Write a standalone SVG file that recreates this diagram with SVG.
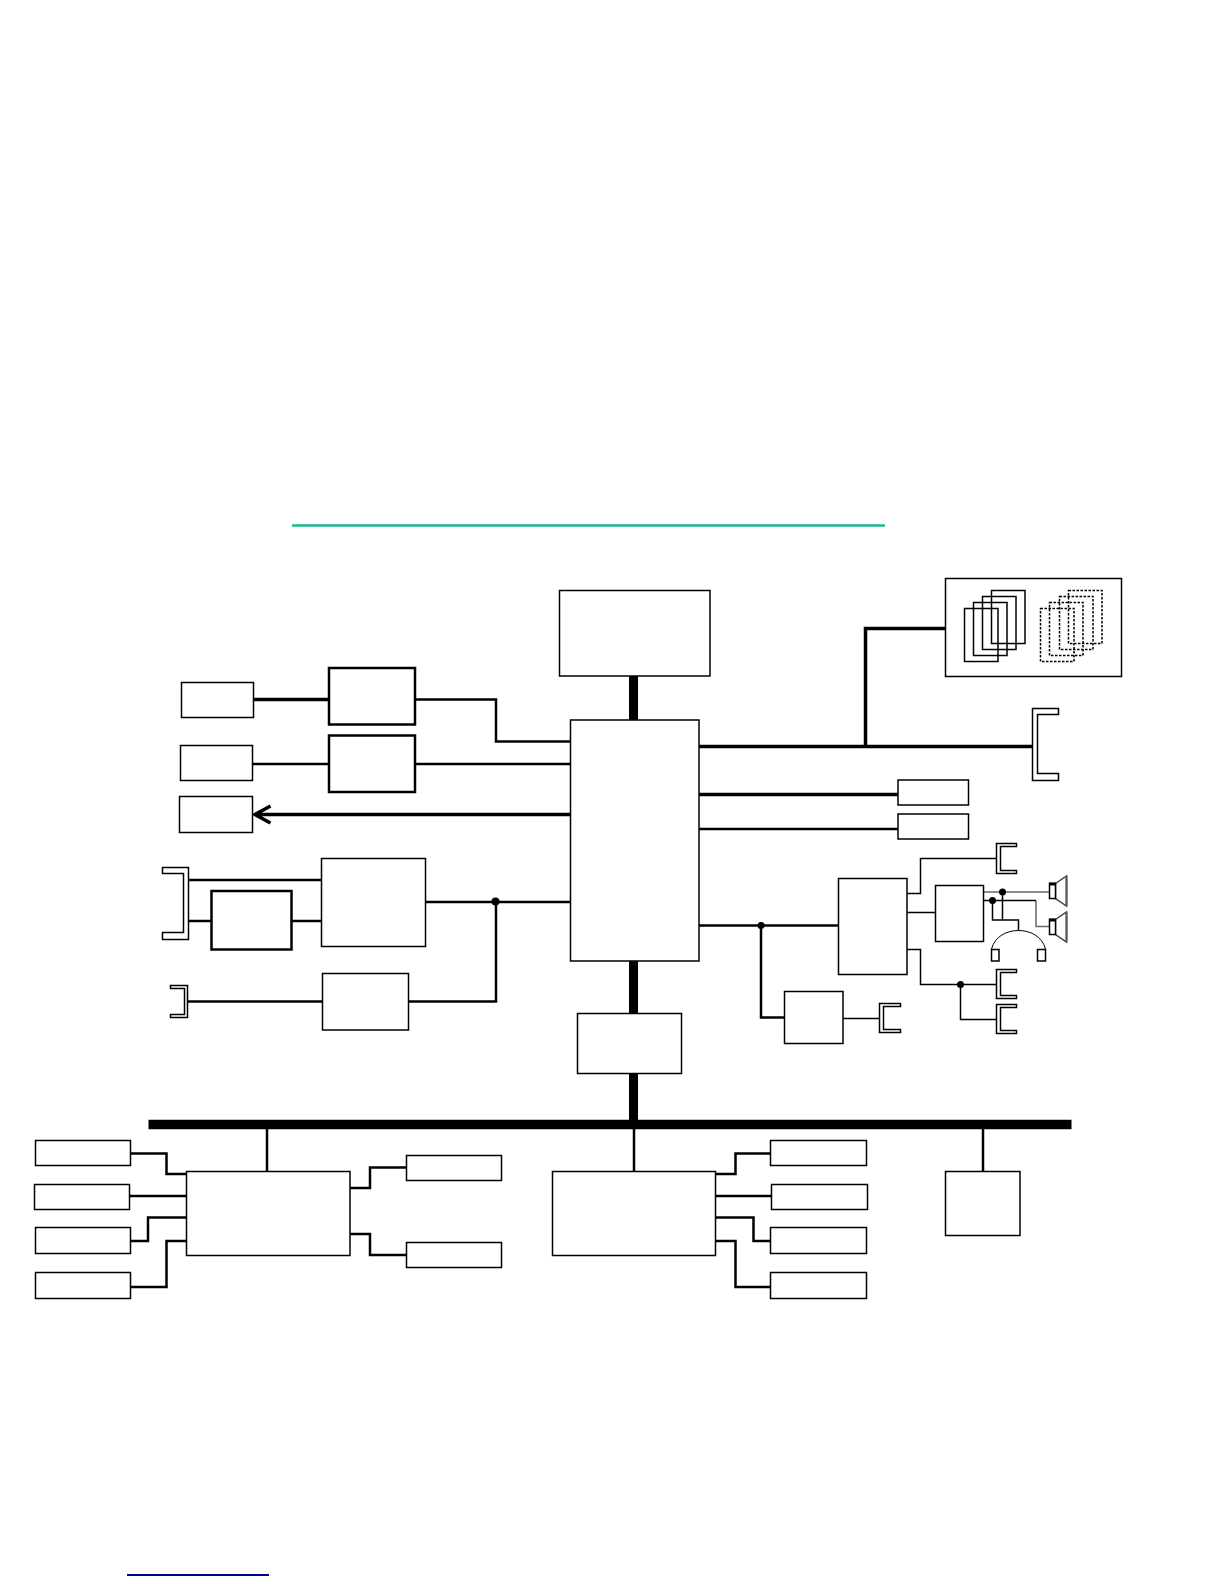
<svg xmlns="http://www.w3.org/2000/svg" width="1224" height="1584" viewBox="0 0 1224 1584">
<defs><style>
rect,path,polygon{fill:#fff;stroke:#000;stroke-width:1.5}
.b2{stroke-width:2.5}
.dash{fill:none;stroke-width:1.5;stroke-dasharray:2.5 1.5}
.open{fill:none}
.horn{stroke:#444;stroke-width:1.5}
.horn-edge{fill:none;stroke:#555;stroke-width:2}
.cap{fill:none;stroke-width:3}
#connectors path{fill:none;stroke:#000;stroke-width:2.5}
#connectors .w1{stroke-width:1.5}
#connectors .w3{stroke-width:3.5}
#connectors .w9{stroke-width:9}
#connectors .bus{stroke-width:9.5}
#connectors .grey{stroke:#666;stroke-width:1.5}
#connectors circle{fill:#000;stroke:none}
</style></defs>
<rect width="1224" height="1584" style="fill:#fff;stroke:none"/>
<path id="rule-green" d="M292 525.500H885" style="stroke:#17b890;stroke-width:2.500;fill:none"/>
<path id="rule-blue" d="M127 1575H269" style="stroke:#00008b;stroke-width:2;fill:none"/>
<g id="connectors">
<path class="w9" d="M633.500 675V721M633.500 961V1014M633.500 1073V1121"/>
<path class="bus" d="M148.500 1124.500H1071.500"/>
<path class="w3" d="M698 746.500H1033M865.500 746.500V628.500H946"/>
<path class="w3" d="M698 794.500H899"/>
<path d="M698 829H899"/>
<path d="M698 925.500H839M761 925.500V1017.500H785"/>
<path class="w1" d="M842 1018.500H880"/>
<circle cx="761" cy="925.500" r="3.500"/>
<path class="w1" d="M906 912.500H936M906 893.500H920.500V858.500H997M906 949.500H920.500V984.500H997M960.500 984.500V1019.500H997"/>
<circle cx="960.500" cy="984.500" r="3.500"/>
<path class="grey" d="M983 892H1050M1036 900.500V926.500H1050"/>
<path class="w1" d="M983 900.500H1036M1002.500 892V920M992.500 900.500V920H1018.500V930.500"/>
<circle cx="1002.500" cy="892" r="3.500"/><circle cx="992.500" cy="900.500" r="3.500"/>
<path class="w3" d="M254 699.500H329"/>
<path d="M415 699.500H496V741.500H571"/>
<path d="M252 764H329M415 764H571"/>
<path class="w3" d="M571 814.500H256M270.500 806L255 814.500L270.500 823"/>
<path d="M188 880H322M188 921H212M291 921H322M425 902H571M496 902V1001.500H408M188 1001.500H323"/>
<circle cx="495.500" cy="901.500" r="4"/>
<path d="M267 1129V1172M634 1129V1172M983 1129V1172"/>
<path d="M130 1153.500H166.500V1174H187M129 1196H187M130 1241H148V1217.500H187M130 1287H166.500V1241H187M349 1188H370V1167.500H407M349 1234H370V1255H407"/>
<path d="M715 1174H735.500V1153.500H771M715 1196H772M715 1217.500H753.500V1241H771M715 1241H735.500V1287H771"/>
</g>
<g id="node-memory"><rect x="559.500" y="590.500" width="150.500" height="85.500"/></g>
<g id="node-central"><rect x="570.500" y="720" width="128.500" height="241"/></g>
<g id="node-bridge"><rect x="577.500" y="1013.500" width="104" height="60"/></g>
<g id="node-cards">
<rect x="945.500" y="578.500" width="176" height="98"/>
<rect x="964.500" y="608.500" width="33.500" height="53" class="open"/><rect x="973.500" y="602.500" width="33.500" height="53" class="open"/><rect x="982.500" y="596.500" width="33.500" height="53" class="open"/><rect x="991.500" y="590.500" width="33.500" height="53" class="open"/>
<rect x="1040.500" y="608.500" width="33.500" height="53" class="dash"/><rect x="1049.500" y="602.500" width="33.500" height="53" class="dash"/><rect x="1059.500" y="596.500" width="33.500" height="53" class="dash"/><rect x="1068.500" y="590.500" width="33.500" height="53" class="dash"/>
</g>
<g id="node-slot-a"><path d="M1058.500 708.500H1032.500V780.500H1058.500V773.500H1037.500V714.500H1058.500Z"/></g>
<g id="node-r1"><rect x="898" y="780" width="70.500" height="25"/></g>
<g id="node-r2"><rect x="898" y="814" width="70.500" height="25"/></g>
<g id="node-audio"><rect x="838.500" y="878.500" width="68.500" height="96"/></g>
<g id="node-codec"><rect x="935.500" y="885.500" width="48" height="56"/></g>
<g id="node-jack-1"><path d="M1016.500 843.500H996.500V873.500H1016.500V870.500H1000.500V846.500H1016.500Z"/></g>
<g id="node-jack-2"><path d="M1016.500 969.500H996.500V998.500H1016.500V995.500H1000.500V972.500H1016.500Z"/></g>
<g id="node-jack-3"><path d="M1016.500 1004.500H996.500V1033.500H1016.500V1030.500H1000.500V1007.500H1016.500Z"/></g>
<g id="node-headphones">
<path class="open" d="M991.500 949C995 936 1007 930.500 1018.500 930.500C1030 930.500 1042 936 1045.500 949" style="stroke-width:1"/>
<rect x="991.500" y="949.500" width="7.500" height="11.500"/><rect x="1037.500" y="949.500" width="8" height="11.500"/>
</g>
<g id="node-speaker-1"><polygon class="horn" points="1055.500,883.500 1066.500,876 1066.500,906 1055.500,898.500"/><path class="horn-edge" d="M1066.500 876V906"/><rect x="1049.500" y="883.500" width="6" height="15"/><path class="cap" d="M1049 884H1056"/></g>
<g id="node-speaker-2"><polygon class="horn" points="1055.500,919.500 1066.500,912 1066.500,942 1055.500,934.500"/><path class="horn-edge" d="M1066.500 912V942"/><rect x="1049.500" y="919.500" width="6" height="15"/><path class="cap" d="M1049 920H1056"/></g>
<g id="node-lan"><rect x="784.500" y="991.500" width="58.500" height="52"/></g>
<g id="node-lan-port"><path d="M900.500 1003.500H879.500V1032.500H900.500V1029.500H883.500V1006.500H900.500Z"/></g>
<g id="node-l1"><rect x="181.500" y="682.500" width="72" height="35"/></g>
<g id="node-l2"><rect x="180.500" y="745.500" width="72" height="35"/></g>
<g id="node-l3"><rect x="179.500" y="796.500" width="73" height="36"/></g>
<g id="node-a"><rect x="329" y="668" width="86" height="56.500" class="b2"/></g>
<g id="node-b"><rect x="329" y="735.500" width="86" height="56.500" class="b2"/></g>
<g id="node-port-l1"><path d="M162.500 867.500H188.500V939.500H162.500V932.500H183.500V873.500H162.500Z"/></g>
<g id="node-graphics"><rect x="321.500" y="858.500" width="104" height="88"/></g>
<g id="node-small"><rect x="211.500" y="891" width="80" height="58.500" class="b2"/></g>
<g id="node-port-l2"><path d="M170.500 985.500H187.500V1017.500H170.500V1014.500H184.500V988.500H170.500Z"/></g>
<g id="node-c"><rect x="322.500" y="973.500" width="86" height="56.500"/></g>
<g id="node-sio"><rect x="186.500" y="1171.500" width="163.500" height="84"/></g>
<g id="node-lb1"><rect x="35.500" y="1140.500" width="95" height="25"/></g>
<g id="node-lb2"><rect x="34.500" y="1184.500" width="95" height="25"/></g>
<g id="node-lb3"><rect x="35.500" y="1227.500" width="95" height="26"/></g>
<g id="node-lb4"><rect x="35.500" y="1272.500" width="95" height="26"/></g>
<g id="node-rb1"><rect x="406.500" y="1155.500" width="95" height="25"/></g>
<g id="node-rb2"><rect x="406.500" y="1242.500" width="95" height="25"/></g>
<g id="node-sb"><rect x="552.500" y="1171.500" width="163" height="84"/></g>
<g id="node-mb1"><rect x="770.500" y="1140.500" width="96" height="25"/></g>
<g id="node-mb2"><rect x="771.500" y="1184.500" width="96" height="25"/></g>
<g id="node-mb3"><rect x="770.500" y="1227.500" width="96" height="26"/></g>
<g id="node-mb4"><rect x="770.500" y="1272.500" width="96" height="26"/></g>
<g id="node-end"><rect x="945.500" y="1171.500" width="74.500" height="64"/></g>
</svg>
